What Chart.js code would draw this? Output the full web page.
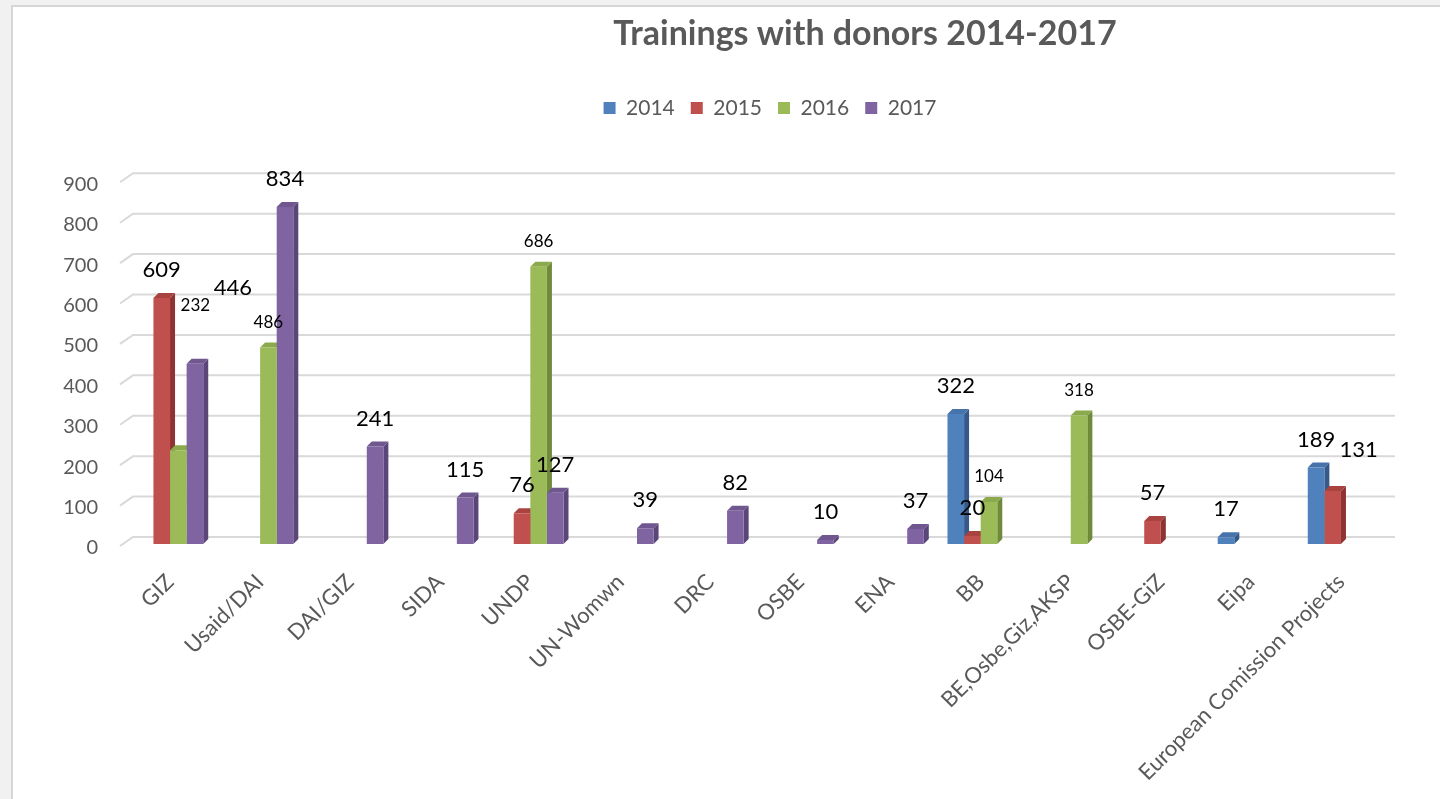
<!DOCTYPE html>
<html>
<head>
<meta charset="utf-8">
<script src="https://cdn.jsdelivr.net/npm/chart.js@4.4.1/dist/chart.umd.min.js"></script>
<style>
html,body{margin:0;padding:0;background:#ffffff;overflow:hidden}
#wrap{width:1440px;height:799px;position:relative}
canvas{display:block}
</style>
</head>
<body>
<div id="wrap"><canvas id="c" width="1440" height="799"></canvas></div>
<script>
// ---------------- data ----------------
const chartTitle = 'Trainings with donors 2014-2017';
const categories = ['GIZ', 'Usaid/DAI', 'DAI/GIZ', 'SIDA', 'UNDP', 'UN-Womwn', 'DRC', 'OSBE', 'ENA', 'BB', 'BE,Osbe,Giz,AKSP', 'OSBE-GiZ', 'Eipa', 'European Comission Projects'];
const seriesNames = ['2014', '2015', '2016', '2017'];
const values2014 = [null, null, null, null, null, null, null, null, null, 322, null, null, 17, 189];
const values2015 = [609, null, null, null, 76, null, null, null, null, 20, null, 57, null, 131];
const values2016 = [232, 486, null, null, 686, null, null, null, null, 104, 318, null, null, null];
const values2017 = [446, 834, 241, 115, 127, 39, 82, 10, 37, null, null, null, null, null];
const yMin = 0, yMax = 900, yStep = 100;

// ---------------- styles ----------------
const FONT = 'Lato, "Open Sans", sans-serif';
const frontColors = ['#4F81BD', '#C0504D', '#9BBB59', '#8064A2'];
const sideColors  = ['#36598A', '#8E3331', '#6F8A3B', '#5A4679'];
const topColors   = ['#4673AB', '#A9433F', '#8BAA4C', '#70578F'];
const labelSmall = [false, false, true, false];
const labelNudge = { '2-0': [17, -120], '3-0': [38, -48], '1-13': [26, -13] };
const DEPTH_X = 5, DEPTH_Y = 5;
const WALL_X = 13, WALL_Y = 9;
const TITLE_CX = 865;
const LEGEND_CX = 770, LEGEND_TOP = 81.5;

const seriesValues = [values2014, values2015, values2016, values2017];

const threeD = {
  id: 'threeD',
  beforeDraw(chart) {
    const ctx = chart.ctx;
    ctx.save();
    ctx.fillStyle = '#f1f1f1';
    ctx.fillRect(0, 0, chart.width, chart.height);
    ctx.fillStyle = '#ffffff';
    ctx.fillRect(12, 6, chart.width - 12, chart.height - 6);
    ctx.strokeStyle = '#d6d6d6';
    ctx.lineWidth = 2;
    ctx.beginPath();
    ctx.moveTo(12, chart.height);
    ctx.lineTo(12, 6);
    ctx.lineTo(chart.width, 6);
    ctx.stroke();
    ctx.restore();
  },
  afterLayout(chart) {
    const t = chart.titleBlock;
    if (t) { const s = TITLE_CX - (t.left + t.right) / 2; t.left += s; t.right += s; }
    const l = chart.legend;
    if (l) {
      const s = LEGEND_CX - (l.left + l.right) / 2; l.left += s; l.right += s;
      const dy = LEGEND_TOP - l.top; l.top += dy; l.bottom += dy;
    }
  },
  beforeDatasetsDraw(chart) {
    const ctx = chart.ctx;
    const ys = chart.scales.y;
    const area = chart.chartArea;
    ctx.save();
    // back wall gridlines
    ctx.strokeStyle = '#d9d9d9';
    ctx.lineWidth = 2;
    for (let v = yMin; v <= yMax; v += yStep) {
      const y = ys.getPixelForValue(v);
      ctx.beginPath();
      ctx.moveTo(area.left - 5, y + 2);
      ctx.lineTo(area.left - 5 + WALL_X, y + 2 - WALL_Y);
      ctx.lineTo(1395, y + 2 - WALL_Y);
      ctx.stroke();
    }
    // bar side and top faces
    chart.data.datasets.forEach((ds, d) => {
      const meta = chart.getDatasetMeta(d);
      meta.data.forEach((el, i) => {
        if (ds.data[i] == null) return;
        const L = el.x - el.width / 2, R = el.x + el.width / 2;
        const top = el.y, base = el.base;
        ctx.fillStyle = sideColors[d];
        ctx.beginPath();
        ctx.moveTo(R, top);
        ctx.lineTo(R + DEPTH_X, top - DEPTH_Y);
        ctx.lineTo(R + DEPTH_X, base - DEPTH_Y);
        ctx.lineTo(R, base);
        ctx.closePath();
        ctx.fill();
        ctx.fillStyle = topColors[d];
        ctx.beginPath();
        ctx.moveTo(L, top);
        ctx.lineTo(L + DEPTH_X, top - DEPTH_Y);
        ctx.lineTo(R + DEPTH_X, top - DEPTH_Y);
        ctx.lineTo(R, top);
        ctx.closePath();
        ctx.fill();
      });
    });
    ctx.restore();
  },
  afterDatasetsDraw(chart) {
    const ctx = chart.ctx;
    ctx.save();
    ctx.textAlign = 'center';
    ctx.textBaseline = 'middle';
    ctx.fillStyle = '#000000';
    chart.data.datasets.forEach((ds, d) => {
      const meta = chart.getDatasetMeta(d);
      meta.data.forEach((el, i) => {
        const v = ds.data[i];
        if (v == null) return;
        const small = labelSmall[d];
        ctx.font = (small ? 17 : 22) + 'px ' + FONT;
        const n = labelNudge[d + '-' + i] || [0, 0];
        const x = el.x + n[0];
        const y = el.y - (small ? 25 : 28) + n[1];
        ctx.fillText(String(v), x, y);
      });
    });
    ctx.restore();
  }
};

const datasets = seriesNames.map((name, d) => ({
  label: name,
  data: seriesValues[d],
  backgroundColor: frontColors[d],
  borderWidth: 0,
  barPercentage: 1.0,
  categoryPercentage: 0.737
}));

new Chart(document.getElementById('c'), {
  type: 'bar',
  data: { labels: categories, datasets },
  plugins: [threeD],
  options: {
    responsive: false,
    animation: false,
    devicePixelRatio: 1,
    layout: { padding: { left: 0, right: 54, top: 0, bottom: 0 } },
    plugins: {
      title: {
        display: true,
        text: chartTitle,
        color: '#595959',
        font: { family: FONT, size: 34, weight: 'bold' },
        padding: { top: 14, bottom: 78.5 }
      },
      legend: {
        display: true,
        position: 'top',
        labels: {
          boxWidth: 12, boxHeight: 12, padding: 16,
          color: '#595959',
          font: { family: FONT, size: 21 }
        }
      },
      tooltip: { enabled: false }
    },
    scales: {
      x: {
        grid: { display: false, drawTicks: false },
        border: { display: false },
        ticks: {
          color: '#595959',
          font: { family: FONT, size: 22 },
          maxRotation: 45, minRotation: 45,
          padding: 25,
          autoSkip: false
        },
        afterFit(s) { s.height = 255; s.paddingLeft = 0; s.paddingRight = 0; }
      },
      y: {
        min: yMin, max: yMax,
        grid: { display: false, drawTicks: false },
        border: { display: false },
        ticks: {
          stepSize: yStep,
          color: '#595959',
          font: { family: FONT, size: 20 },
          padding: 27,
          labelOffset: 4
        },
        afterFit(s) { s.width = 125; s.paddingTop = 0; s.paddingBottom = 0; }
      }
    }
  }
});
</script>
</body>
</html>
